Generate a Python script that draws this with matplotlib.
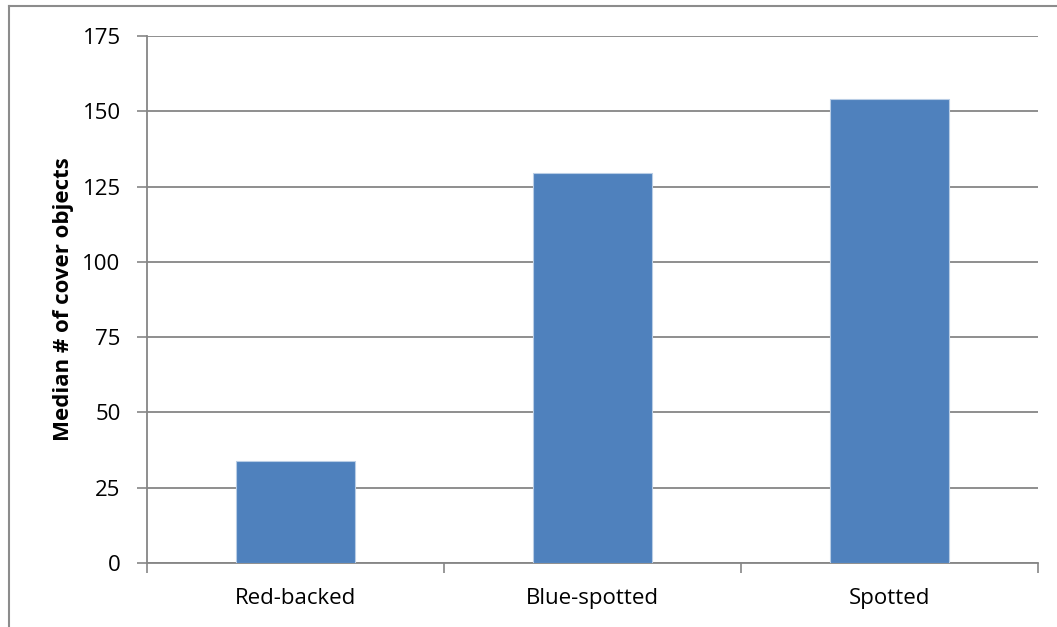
import matplotlib.pyplot as plt
from matplotlib.lines import Line2D

# median number of cover objects per salamander species
species = ['Red-backed', 'Blue-spotted', 'Spotted']
median_cover = [34, 129.5, 154]
y_ticks = [0, 25, 50, 75, 100, 125, 150, 175]

plt.rcParams['font.family'] = ['Open Sans', 'DejaVu Sans']

fig = plt.figure(figsize=(10.57, 6.27), dpi=100)
ax = fig.add_axes([0.1391, 0.1021, 0.8429, 0.8405])

grid_color = '#868686'

# bars
x = list(range(len(species)))
ax.bar(x, median_cover, width=0.4, color='#4F81BD', edgecolor='#B9CDE5',
       linewidth=0.8, zorder=3)

# axes and grid
ax.set_xlim(-0.5, len(species) - 0.5)
ax.set_ylim(0, 175)
ax.set_yticks(y_ticks)
ax.set_yticklabels([str(t) for t in y_ticks], fontsize=16)
ax.set_xticks(x)
ax.set_xticklabels(species, fontsize=16)
ax.set_xticks([i - 0.5 for i in range(len(species) + 1)], minor=True)
ax.tick_params(axis='x', which='major', length=0, pad=18)
ax.tick_params(axis='x', which='minor', length=7, width=1.2, color=grid_color)
ax.tick_params(axis='y', length=7, width=1.2, color=grid_color, pad=12)
ax.yaxis.grid(True, color=grid_color, linewidth=1.3, zorder=0)
ax.set_axisbelow(True)

for side in ['top', 'right']:
    ax.spines[side].set_visible(False)
for side in ['left', 'bottom']:
    ax.spines[side].set_color(grid_color)
    ax.spines[side].set_linewidth(1.3)

ax.set_ylabel('Median # of cover objects', fontsize=16, fontweight='bold',
              labelpad=6)

# chart frame
fx = 8.5 / 1057
fy = 1 - 5.5 / 627
fig.add_artist(Line2D([fx, fx], [0, fy], transform=fig.transFigure,
                      color='#8C8C8C', linewidth=1.5))
fig.add_artist(Line2D([fx, 1], [fy, fy], transform=fig.transFigure,
                      color='#8C8C8C', linewidth=1.5))

fig.savefig('out.png', dpi=100)
